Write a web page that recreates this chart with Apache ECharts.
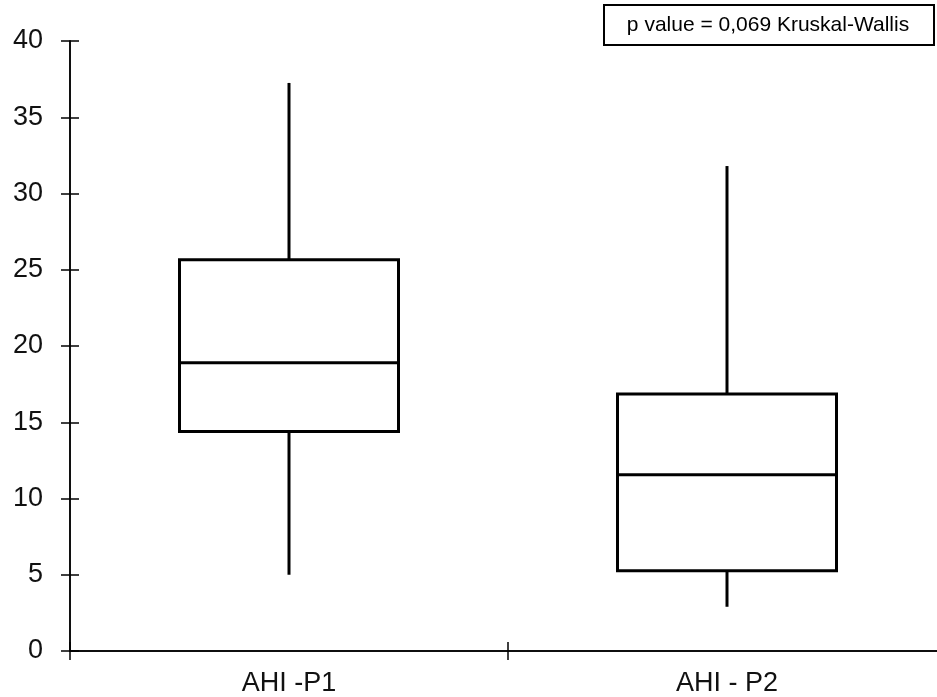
<!DOCTYPE html>
<html>
<head>
<meta charset="utf-8">
<script src="https://cdn.jsdelivr.net/npm/echarts@6/dist/echarts.min.js"></script>
<style>
html,body{margin:0;padding:0;background:#fff;overflow:hidden;}
#chart{width:946px;height:697px;}
</style>
</head>
<body>
<div id="chart"></div>
<script>
// ---- data ----
const categories = ['AHI -P1', 'AHI - P2'];
const whiskerLow = [5.0, 2.9];
const q1Values = [14.4, 5.27];
const medianValues = [18.9, 11.55];
const q3Values = [25.65, 16.85];
const whiskerHigh = [37.25, 31.8];
const yMin = 0, yMax = 40, yStep = 5;
const annotationText = 'p value = 0,069 Kruskal-Wallis';

const boxData = categories.map((c, i) => [i, whiskerLow[i], q1Values[i], medianValues[i], q3Values[i], whiskerHigh[i]]);

const FONT = 'Liberation Sans, Arial, sans-serif';
const chart = echarts.init(document.getElementById('chart'), null, {renderer: 'canvas'});

const lineStyle = {stroke: '#000', lineWidth: 3};
const gridRect = {left: 70, top: 41, right: 0, bottom: 46, containLabel: false};
const tickStyle = {color: '#000', width: 1.5};
const axisLineStyle = {color: '#000', width: 1.5};

function renderBox(params, api) {
  const x = api.value(0);
  const lo = api.coord([x, api.value(1)]);
  const q1 = api.coord([x, api.value(2)]);
  const med = api.coord([x, api.value(3)]);
  const q3 = api.coord([x, api.value(4)]);
  const hi = api.coord([x, api.value(5)]);
  const halfW = api.size([1, 0])[0] * 0.25;
  const cx = lo[0];
  return {
    type: 'group',
    children: [
      {type: 'line', shape: {x1: cx, y1: hi[1], x2: cx, y2: q3[1]}, style: lineStyle},
      {type: 'line', shape: {x1: cx, y1: q1[1], x2: cx, y2: lo[1]}, style: lineStyle},
      {type: 'rect', shape: {x: cx - halfW, y: q3[1], width: halfW * 2, height: q1[1] - q3[1]},
        style: {fill: '#fff', stroke: '#000', lineWidth: 3}},
      {type: 'line', shape: {x1: cx - halfW, y1: med[1], x2: cx + halfW, y2: med[1]}, style: lineStyle}
    ]
  };
}

const option = {
  backgroundColor: '#fff',
  animation: false,
  grid: [gridRect, Object.assign({}, gridRect)],
  xAxis: [
    {
      gridIndex: 0, type: 'category', data: categories, position: 'bottom',
      axisLine: {show: true, onZero: false, lineStyle: axisLineStyle},
      axisTick: {show: true, inside: false, length: 9, lineStyle: tickStyle},
      axisLabel: {fontFamily: FONT, fontSize: 27, color: '#111', margin: 19},
      splitLine: {show: false}
    },
    {
      gridIndex: 1, type: 'category', data: categories, position: 'bottom',
      axisLine: {show: true, onZero: false, lineStyle: axisLineStyle},
      axisTick: {show: true, inside: true, length: 9, lineStyle: tickStyle},
      axisLabel: {show: false},
      splitLine: {show: false}
    }
  ],
  yAxis: [
    {
      gridIndex: 0, type: 'value', min: yMin, max: yMax, interval: yStep, position: 'left',
      axisLine: {show: true, onZero: false, lineStyle: axisLineStyle},
      axisTick: {show: true, inside: false, length: 9, lineStyle: tickStyle},
      axisLabel: {fontFamily: FONT, fontSize: 27, color: '#111', margin: 27},
      splitLine: {show: false}
    },
    {
      gridIndex: 1, type: 'value', min: yMin, max: yMax, interval: yStep, position: 'left',
      axisLine: {show: true, onZero: false, lineStyle: axisLineStyle},
      axisTick: {show: true, inside: true, length: 9, lineStyle: tickStyle},
      axisLabel: {show: false},
      splitLine: {show: false}
    }
  ],
  series: [
    {
      type: 'custom',
      xAxisIndex: 0, yAxisIndex: 0,
      data: boxData,
      encode: {x: 0, y: [1, 2, 3, 4, 5]},
      renderItem: renderBox
    },
    {
      type: 'custom',
      xAxisIndex: 1, yAxisIndex: 1,
      data: boxData,
      encode: {x: 0, y: [1, 2, 3, 4, 5]},
      renderItem: function () { return {type: 'group', children: []}; },
      silent: true
    }
  ],
  graphic: [{
    type: 'group', left: 603, top: 4,
    children: [
      {type: 'rect', shape: {x: 0, y: 0, width: 330, height: 40}, style: {fill: '#fff', stroke: '#000', lineWidth: 2}},
      {type: 'text', x: 164, y: 20, style: {text: annotationText, font: '21px ' + FONT, fill: '#000', align: 'center', verticalAlign: 'middle'}}
    ]
  }]
};
chart.setOption(option);
</script>
</body>
</html>
